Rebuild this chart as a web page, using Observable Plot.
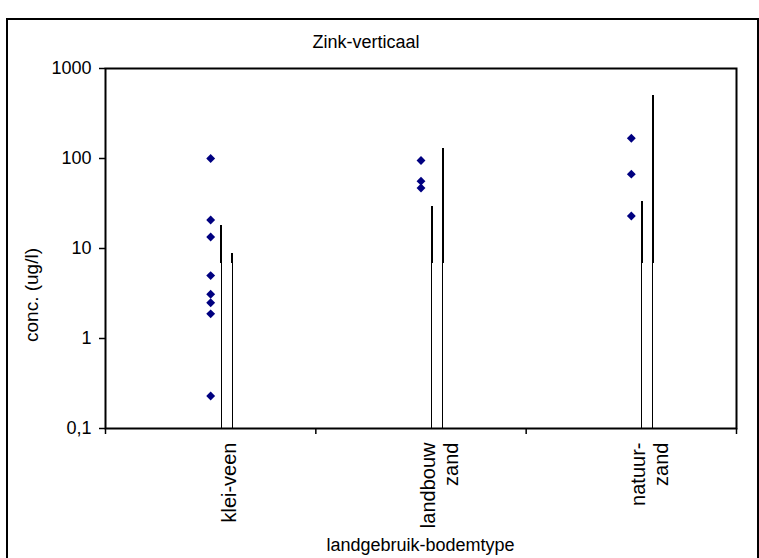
<!DOCTYPE html>
<html>
<head>
<meta charset="utf-8">
<script src="https://cdn.jsdelivr.net/npm/d3@7"></script>
<script src="https://cdn.jsdelivr.net/npm/@observablehq/plot@0.6"></script>
<style>
  html, body { margin: 0; padding: 0; background: #fff; }
  #chart { position: relative; width: 759px; height: 558px; overflow: hidden; font-family: "Liberation Sans", Arial, sans-serif; }
  #border { position: absolute; left: 6px; top: 18px; width: 749px; height: 600px; border: 2px solid #000; box-sizing: content-box; }
  #title { position: absolute; left: 0; width: 732px; top: 32px; text-align: center; font-size: 18px; color: #000; }
  #xlabel { position: absolute; left: 105px; width: 631px; top: 535px; text-align: center; font-size: 18px; color: #000; }
  #ylabel { position: absolute; left: 32px; top: 248px; font-size: 19px; color: #000; transform: translate(-100%, -50%) rotate(-90deg); transform-origin: 100% 50%; white-space: nowrap; }
  #plot { position: absolute; left: 0; top: 0; }
</style>
</head>
<body>
<div id="chart">
  <div id="border"></div>
  <div id="plot"></div>
  <div id="title">Zink-verticaal</div>
  <div id="xlabel">landgebruik-bodemtype</div>
  <div id="ylabel">conc. (ug/l)</div>
</div>
<script>
// ---- data ----
const categories = ["klei-veen", "landbouw\nzand", "natuur-\nzand"];
const kleiVeenPoints = [100, 20.7, 13.4, 5.0, 3.1, 2.5, 1.88, 0.23];
const landbouwPoints = [95, 56, 47];
const natuurPoints = [168, 67, 23];
const lineA = [17.8, 29.6, 33];
const lineB = [8.7, 130, 500];
const splitValue = 6.8;
const yTicks = [0.1, 1, 10, 100, 1000];
const yTickLabels = ["0,1", "1", "10", "100", "1000"];
const xTicks = [0, 1, 2, 3];

// ---- build tables ----
const pointSets = [kleiVeenPoints, landbouwPoints, natuurPoints];
const points = pointSets.flatMap((vals, i) => vals.map(v => ({xi: i + 0.5, v})));
const linesA = lineA.map((v, i) => ({xi: i + 0.5, v}));
const linesB = lineB.map((v, i) => ({xi: i + 0.5, v}));
const catLabels = categories.map((c, i) => ({xi: i + 0.5, c}));

const chart = Plot.plot({
  width: 759,
  height: 558,
  marginLeft: 105,
  marginRight: 23,
  marginTop: 68,
  marginBottom: 130,
  style: {fontFamily: "'Liberation Sans', Arial, sans-serif", color: "#000", background: "transparent", overflow: "visible"},
  x: {type: "linear", domain: [0, 3]},
  y: {type: "log", domain: [0.1, 1000]},
  marks: [
    Plot.axisY({ticks: yTicks, tickFormat: d => yTickLabels[yTicks.indexOf(d)], tickSize: 6, tickPadding: 8, fontSize: 18, label: null, strokeWidth: 1.5}),
    Plot.axisX({ticks: xTicks, tickFormat: () => "", tickSize: 6, label: null, strokeWidth: 1.5}),
    Plot.ruleX(linesA, {x: "xi", y1: 0.1, y2: splitValue, dx: 10.5, stroke: "#000", strokeWidth: 1, shapeRendering: "crispEdges"}),
    Plot.ruleX(linesA, {x: "xi", y1: splitValue, y2: "v", dx: 10.5, stroke: "#000", strokeWidth: 2, shapeRendering: "crispEdges"}),
    Plot.ruleX(linesB, {x: "xi", y1: 0.1, y2: splitValue, dx: 21.5, stroke: "#000", strokeWidth: 1, shapeRendering: "crispEdges"}),
    Plot.ruleX(linesB, {x: "xi", y1: splitValue, y2: "v", dx: 21.5, stroke: "#000", strokeWidth: 2, shapeRendering: "crispEdges"}),
    Plot.dot(points, {x: "xi", y: "v", symbol: "diamond2", r: 4, fill: "#000080", stroke: null}),
    Plot.frame({stroke: "#000", strokeWidth: 2}),
    Plot.text(catLabels, {x: "xi", y: 0.1, text: "c", rotate: -90, textAnchor: "end", lineAnchor: "middle", dx: 18, dy: 14, fontSize: 20, lineHeight: 1.15, fill: "#000"})
  ]
});
document.getElementById("plot").appendChild(chart);
</script>
</body>
</html>
